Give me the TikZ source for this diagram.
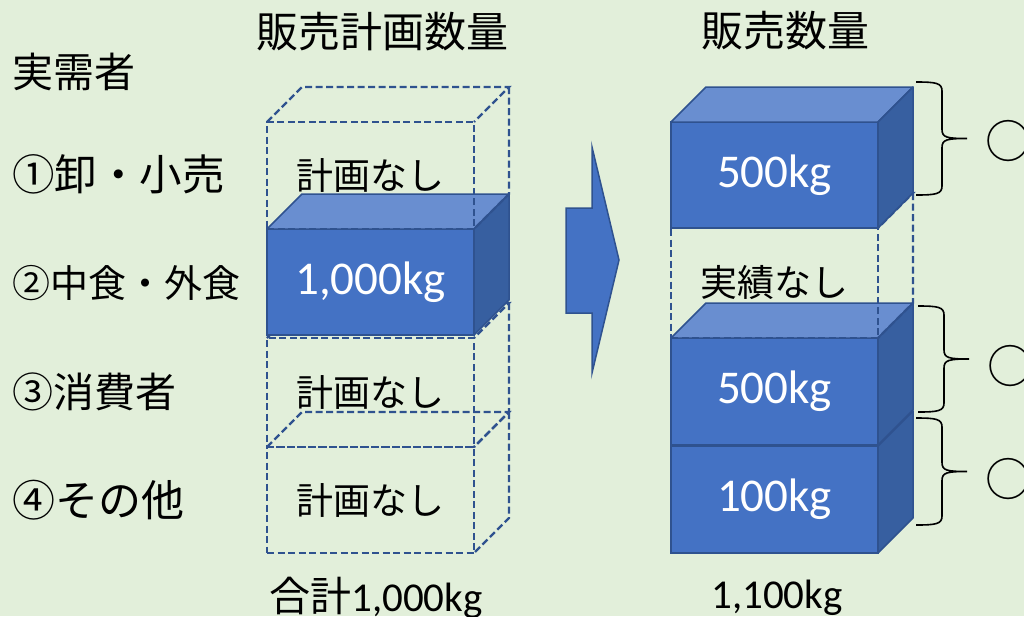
\documentclass[tikz,border=0pt]{standalone}
\usepackage{fontspec}
\setmainfont{Carlito}
\newfontfamily\cjk{Noto Sans CJK JP}
\definecolor{bgc}{HTML}{E2EFDA}
\definecolor{frontc}{HTML}{4472C4}
\definecolor{topc}{HTML}{698ED0}
\definecolor{sidec}{HTML}{375FA0}
\definecolor{edgec}{HTML}{2F528F}
\newcommand\fsz[1]{\fontsize{#1}{#1}\selectfont}
\newcommand\cubefaces[2]{%
  \path[#2,fill=topc] (#1.north west) -- ([shift={(35,-35)}]#1.north west) -- ([shift={(35,-35)}]#1.north east) -- (#1.north east) -- cycle;
  \path[#2,fill=sidec] (#1.north east) -- ([shift={(35,-35)}]#1.north east) -- ([shift={(35,-35)}]#1.south east) -- (#1.south east) -- cycle;}
\newcommand\dashfaces[2]{%
  \path[#2] (#1.north west) -- ([shift={(35,-35)}]#1.north west) -- ([shift={(35,-35)}]#1.north east) -- (#1.north east);
  \path[#2] ([shift={(35,-35)}]#1.north east) -- ([shift={(35,-35)}]#1.south east) -- (#1.south east);}
\newcommand\rightbrace[4]{% top, bottom, x vertical, start x
  \draw[bracec] (#4,#1) .. controls (#3-6,#1) and (#3,#1+1) .. (#3,#1+9)
    -- ({#3},{(#1+#2)/2-9}) .. controls ({#3},{(#1+#2)/2-1}) and ({#3+5},{(#1+#2)/2}) .. ({#3+25},{(#1+#2)/2})
    ({#3+25},{(#1+#2)/2}) .. controls ({#3+5},{(#1+#2)/2}) and ({#3},{(#1+#2)/2+1}) .. ({#3},{(#1+#2)/2+9})
    -- (#3,#2-9) .. controls (#3,#2-1) and (#3-6,#2) .. (#4,#2);}
\begin{document}
\begin{tikzpicture}[x=1pt,y=-1pt,
  solidbox/.style={draw=edgec,line width=1.5pt,fill=frontc,minimum width=207pt,inner sep=0pt,outer sep=0pt,text=white,font=\fsz{47}},
  dashbox/.style={draw=edgec,line width=2.4pt,dash pattern=on 7pt off 3.5pt,minimum width=207pt,inner sep=0pt,outer sep=0pt,text=black,font=\cjk\fsz{37}},
  solidface/.style={draw=edgec,line width=1.5pt,line join=round},
  dashface/.style={draw=edgec,line width=2.4pt,dash pattern=on 7pt off 3.5pt},
  rowlabel/.style={anchor=west,inner sep=0pt,font=\cjk\fsz{41}},
  titletext/.style={inner sep=0pt,font=\cjk\fsz{42}},
  bracec/.style={draw=black,line width=1.6pt},
  circmark/.style={inner sep=0pt,font=\cjk\fsz{46}}]
\useasboundingbox (0,0) rectangle (1024,616);
\clip (0,0) rectangle (1024,616);
\fill[bgc] (0,0) rectangle (1024,616);

% titles and row labels
\node[titletext] (t1) at (382,32) {販売計画数量};
\node[titletext] (t2) at (785,31) {販売数量};
\node[rowlabel] (l0) at (12,72) {実需者};
\node[rowlabel,font=\cjk\fsz{42.5}] (l1) at (12,174) {①卸・小売};
\node[rowlabel,font=\cjk\fsz{38}] (l2) at (12,283) {②中食・外食};
\node[rowlabel] (l3) at (12,392) {③消費者};
\node[rowlabel,font=\cjk\fsz{43}] (l4) at (12,500) {④その他};

% left stack
\node[dashbox,minimum height=106pt] (p4) at (370.5,500) {計画なし};
\dashfaces{p4}{dashface}
\node[dashbox,minimum height=109pt] (p3) at (370.5,392.5) {計画なし};
\dashfaces{p3}{dashface}
\node[solidbox,minimum height=106pt] (p2) at (370.5,282) {1,000kg};
\cubefaces{p2}{solidface}
\node[dashbox,minimum height=107pt] (p1) at (370.5,175.5) {計画なし};
\dashfaces{p1}{dashface}

% arrow
\filldraw[fill=frontc,draw=edgec,line width=1.5pt,line join=miter]
  (566,208) -- (592,208) -- (592,147) -- (619,260) -- (592,373) -- (592,313) -- (566,313) -- cycle;

% right stack
\node[solidbox,minimum height=107pt] (r4) at (774.5,499.5) {100kg};
\cubefaces{r4}{solidface}
\node[solidbox,minimum height=107pt] (r3) at (774.5,391.5) {500kg};
\cubefaces{r3}{solidface}
\node[dashbox,minimum height=110pt] (r2) at (774.5,283) {実績なし};
\dashfaces{r2}{dashface}
\node[solidbox,minimum height=106pt] (r1) at (774.5,175) {500kg};
\cubefaces{r1}{solidface}

% totals
\node[inner sep=0pt,font=\fsz{41}] (s1) at (376,598) {{\cjk 合計}1,000kg};
\node[inner sep=0pt,font=\fsz{41}] (s2) at (777,598) {1,100kg};

% braces and marks
\rightbrace{82}{195}{942}{916}
\rightbrace{306}{412}{944}{918}
\rightbrace{418}{525}{942}{916}
\node[circmark] (m1) at (1008,141) {○};
\node[circmark] (m2) at (1010,366) {○};
\node[circmark] (m3) at (1008,479) {○};
\end{tikzpicture}
\end{document}
